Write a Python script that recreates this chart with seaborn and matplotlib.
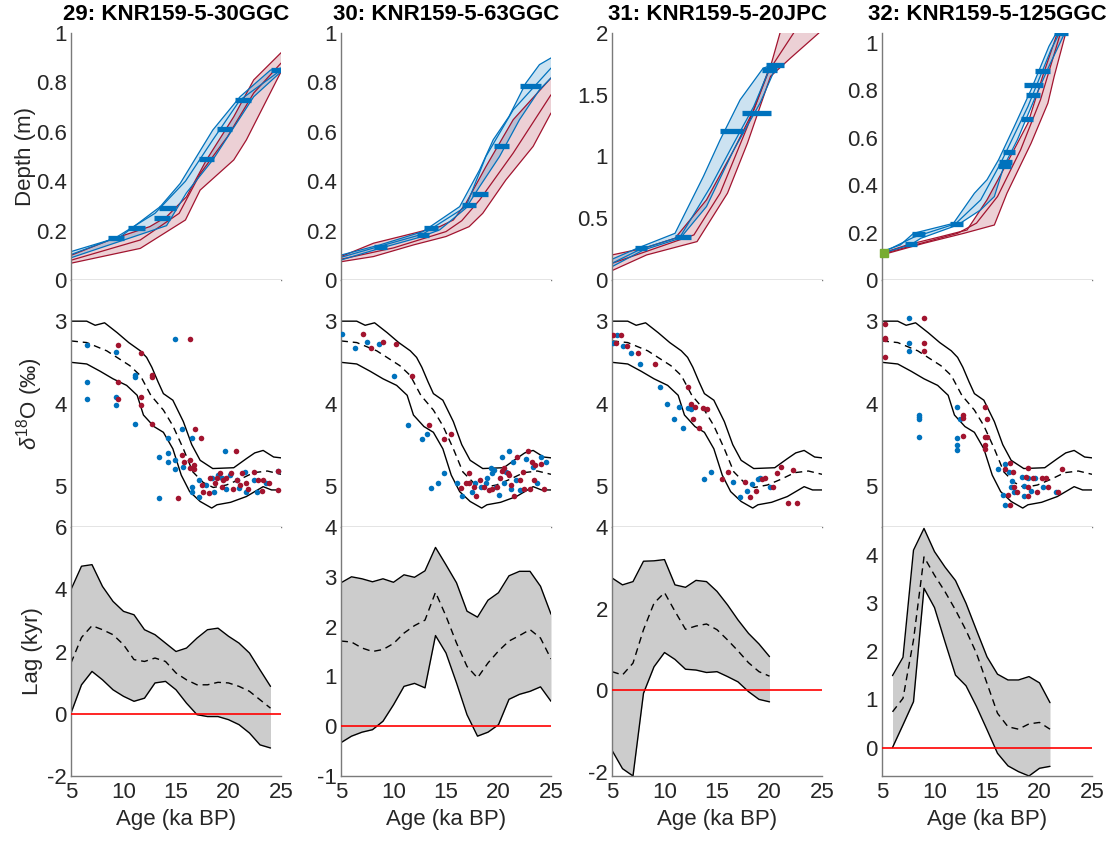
import matplotlib
matplotlib.use("Agg")
import numpy as np
import pandas as pd
import seaborn as sns
import matplotlib.pyplot as plt
from matplotlib.ticker import FuncFormatter

# ---------------------------------------------------------------- titles
TITLES = ["29: KNR159-5-30GGC", "30: KNR159-5-63GGC",
          "31: KNR159-5-20JPC", "32: KNR159-5-125GGC"]

# ------------------------------------------------ age-depth models (age ka, depth m)
red_young_29 = [(5, 0.100), (8.7, 0.162), (12.5, 0.216), (14.1, 0.256), (16.0, 0.337),
                (17.9, 0.486), (20.5, 0.661), (22.4, 0.810), (25, 0.920)]
red_mid_29 = [(5, 0.080), (11.6, 0.162), (15.3, 0.270), (17.3, 0.430), (19.9, 0.580),
              (22.4, 0.757), (25, 0.878)]
red_old_29 = [(5, 0.068), (11.6, 0.128), (15.9, 0.243), (17.3, 0.364), (20.5, 0.486),
              (21.7, 0.567), (25, 0.843)]
blue_young_29 = [(5, 0.115), (9.7, 0.175), (13.5, 0.297), (15.4, 0.391), (18.5, 0.607),
                 (21.1, 0.742), (24, 0.850), (25, 0.858)]
blue_mid_29 = [(5, 0.103), (9.2, 0.170), (13.0, 0.270), (15.9, 0.400), (18.5, 0.567),
               (21.1, 0.729), (25, 0.850)]
blue_old_29 = [(5, 0.090), (14.1, 0.220), (16.0, 0.353), (18.5, 0.486), (22.4, 0.742),
               (25, 0.843)]
bar_depth_29 = [0.17, 0.21, 0.25, 0.29, 0.49, 0.61, 0.73, 0.85]
bar_young_29 = [8.5, 10.4, 12.9, 13.4, 17.2, 18.9, 20.6, 24.0]
bar_old_29 = [10.0, 12.0, 14.4, 15.0, 18.6, 20.3, 22.1, 25.5]

red_young_30 = [(5, 0.095), (8.1, 0.149), (11.9, 0.189), (14.4, 0.216), (15.7, 0.243),
                (16.9, 0.311), (18.8, 0.459), (21.4, 0.649), (25, 0.818)]
red_mid_30 = [(5, 0.084), (10, 0.130), (15.0, 0.196), (16.5, 0.240), (18.2, 0.324),
              (21.4, 0.514), (25, 0.750)]
red_old_30 = [(5, 0.074), (8.1, 0.095), (11.9, 0.142), (15.0, 0.176), (17.2, 0.216),
              (18.5, 0.270), (20.7, 0.405), (23.3, 0.541), (25, 0.676)]
blue_young_30 = [(5, 0.101), (8.7, 0.142), (12.8, 0.196), (16.3, 0.297), (18.2, 0.446),
                 (19.5, 0.568), (21.0, 0.662), (22.6, 0.797), (23.9, 0.872), (25, 0.899)]
blue_mid_30 = [(5, 0.092), (12.8, 0.186), (16.9, 0.297), (18.8, 0.500), (21.4, 0.689),
               (25, 0.858)]
blue_old_30 = [(5, 0.081), (8.7, 0.128), (12.5, 0.173), (14.4, 0.203), (16.9, 0.291),
               (18.2, 0.378), (20.1, 0.500), (22.0, 0.649), (23.9, 0.770), (25, 0.818)]
bar_depth_30 = [0.135, 0.182, 0.212, 0.304, 0.349, 0.543, 0.784]
bar_young_30 = [8.1, 12.2, 12.9, 16.5, 17.5, 19.6, 22.0]
bar_old_30 = [9.4, 13.4, 14.2, 17.9, 19.0, 21.0, 24.0]

red_young_31 = [(5, 0.203), (8.0, 0.257), (11.0, 0.338), (14.0, 0.649), (16.6, 1.054),
                (18.5, 1.378), (20.1, 1.730), (21.0, 2.0), (23, 2.3)]
red_mid_31 = [(5, 0.135), (12.8, 0.365), (15.3, 0.703), (17.9, 1.243), (19.8, 1.676),
              (22.3, 2.0), (24, 2.3)]
red_old_31 = [(5, 0.076), (8.3, 0.203), (13.1, 0.311), (16.0, 0.703), (17.9, 1.108),
              (20.1, 1.649), (22.0, 1.797), (24.7, 2.0), (26, 2.2)]
blue_young_31 = [(5, 0.168), (7.4, 0.257), (11.0, 0.378), (13.7, 0.838), (15.3, 1.135),
                 (17.2, 1.459), (19.4, 1.716), (20.4, 1.743)]
blue_mid_31 = [(5, 0.135), (7.7, 0.249), (11.5, 0.351), (14.4, 0.757), (16.6, 1.108),
               (18.5, 1.405), (20.1, 1.730)]
blue_old_31 = [(5, 0.108), (8.0, 0.243), (11.5, 0.338), (14.0, 0.595), (16.6, 1.054),
               (19.1, 1.432), (20.7, 1.743)]
bar_depth_31 = [0.257, 0.351, 1.203, 1.351, 1.703, 1.741]
bar_young_31 = [7.2, 11.0, 15.3, 17.4, 19.3, 19.7]
bar_old_31 = [8.3, 12.5, 17.5, 20.1, 20.7, 21.4]

red_young_32 = [(5, 0.113), (7.4, 0.148), (10.6, 0.183), (13.1, 0.211), (15.0, 0.338),
                (16.9, 0.493), (18.9, 0.662), (20.4, 0.873), (21.7, 1.042), (22, 1.1)]
red_mid_32 = [(5, 0.110), (12.2, 0.197), (14.0, 0.240), (16.0, 0.352), (18.2, 0.549),
              (20.1, 0.761), (22.0, 1.042), (22.3, 1.1)]
red_old_32 = [(5, 0.106), (9.0, 0.155), (12.8, 0.197), (15.7, 0.232), (16.9, 0.366),
              (19.2, 0.577), (20.8, 0.746), (21.4, 0.859), (22.5, 1.042), (22.8, 1.1)]
blue_young_32 = [(5, 0.120), (6.75, 0.148), (8.0, 0.197), (11.8, 0.239), (13.8, 0.366),
                 (15.0, 0.423), (16.1, 0.507), (17.6, 0.648), (19.2, 0.803), (20.9, 0.986),
                 (21.6, 1.042), (21.8, 1.1)]
blue_mid_32 = [(5, 0.115), (8.0, 0.180), (12.0, 0.237), (14.4, 0.338), (16.3, 0.493),
               (18.9, 0.732), (21.1, 0.972), (21.9, 1.042), (22.1, 1.1)]
blue_old_32 = [(5, 0.113), (7.7, 0.148), (8.7, 0.176), (12.2, 0.232), (14.4, 0.296),
               (15.7, 0.352), (16.6, 0.479), (17.9, 0.592), (19.5, 0.761), (20.9, 0.901),
               (22.4, 1.042), (22.6, 1.1)]
bar_depth_32 = [0.152, 0.193, 0.235, 0.479, 0.497, 0.538, 0.680, 0.779, 0.821, 0.883, 1.04]
bar_young_32 = [7.2, 7.9, 11.5, 16.0, 16.1, 16.5, 18.2, 18.7, 18.5, 19.6, 21.4]
bar_old_32 = [8.3, 9.1, 12.7, 17.3, 17.4, 17.7, 19.4, 20.0, 20.3, 21.0, 22.7]
core_top_32 = (5.2, 0.113)

DEPTH_YLIM = [1.0, 1.0, 2.0, 1.042]
DEPTH_TICKS = [[0, 0.2, 0.4, 0.6, 0.8, 1], [0, 0.2, 0.4, 0.6, 0.8, 1],
               [0, 0.5, 1, 1.5, 2], [0, 0.2, 0.4, 0.6, 0.8, 1]]

# ------------------------------------------------ reference d18O stack (age ka, permil)
stack_upper = [(5, 3.00), (6.5, 3.00), (7.3, 3.05), (8.2, 3.02), (9.4, 3.14), (10.5, 3.26),
               (11.6, 3.36), (12.2, 3.44), (12.7, 3.56), (13.3, 3.74), (13.8, 3.88),
               (14.7, 3.96), (15.7, 4.22), (16.5, 4.50), (17.3, 4.69), (18.5, 4.79),
               (20.5, 4.78), (21.7, 4.67), (22.5, 4.60), (23.3, 4.57), (24.3, 4.65), (25, 4.66)]
stack_mid = [(5, 3.24), (6.5, 3.26), (8.4, 3.36), (10.6, 3.54), (11.6, 3.66), (12.6, 3.90),
             (13.8, 4.08), (14.7, 4.27), (15.7, 4.55), (16.6, 4.83), (17.6, 4.96),
             (18.55, 5.02), (19.8, 4.99), (21.1, 4.92), (22.4, 4.84), (23.7, 4.82), (25, 4.86)]
stack_lower = [(5, 3.50), (6.5, 3.52), (7.8, 3.61), (9.0, 3.70), (10.3, 3.78), (11.3, 3.90),
               (11.9, 4.14), (12.9, 4.28), (13.8, 4.35), (14.7, 4.55), (15.5, 4.87),
               (16.3, 5.07), (17.3, 5.19), (18.4, 5.27), (18.9, 5.23), (20.2, 5.20),
               (21.7, 5.13), (23.3, 5.01), (24.1, 5.05), (25, 5.05)]

# ------------------------------------------------ benthic d18O samples (age ka, permil)
d18o_blue_29 = [(6.5, 3.29), (6.5, 3.74), (6.5, 3.95), (9.3, 3.38), (9.3, 3.92), (9.3, 4.02),
                (11.1, 3.65), (11.1, 3.68), (11.1, 4.25), (14.9, 3.22), (15.6, 4.31),
                (13.4, 4.65), (14.2, 4.42), (14.2, 4.60), (14.2, 4.71), (14.9, 4.69),
                (14.9, 4.79), (15.7, 4.77), (16.5, 4.42), (17.2, 4.93), (16.5, 5.01),
                (16.5, 5.08), (17.2, 5.13), (17.9, 4.99), (18.4, 4.91), (18.6, 5.07),
                (19.0, 4.87), (19.4, 4.91), (19.7, 4.58), (19.8, 5.04), (20.1, 4.87),
                (20.8, 4.93), (21.0, 5.03), (21.6, 4.83), (21.7, 5.07), (22.4, 4.93),
                (22.7, 5.07), (23.6, 4.97), (24.7, 4.82), (13.4, 5.15)]
d18o_red_29 = [(9.45, 3.29), (9.45, 3.74), (9.45, 3.95), (11.7, 3.39), (11.7, 3.92),
               (11.7, 4.02), (12.7, 3.65), (12.7, 3.68), (12.7, 4.25), (16.3, 3.22),
               (16.8, 4.31), (15.2, 5.15), (15.6, 4.63), (15.8, 4.71), (16.3, 4.69),
               (16.3, 4.78), (16.7, 4.75), (16.7, 4.80), (17.4, 4.42), (17.5, 4.99),
               (17.6, 5.07), (18.1, 5.09), (18.2, 4.91), (18.7, 4.97), (18.9, 4.90),
               (19.2, 4.85), (19.4, 5.02), (19.5, 4.93), (19.8, 4.91), (20.2, 4.85),
               (20.4, 5.04), (20.7, 4.58), (20.8, 4.93), (21.1, 4.99), (21.3, 4.84),
               (21.7, 4.96), (21.9, 5.04), (22.4, 4.83), (22.8, 4.93), (23.2, 5.06),
               (23.3, 4.93), (23.9, 4.97), (24.7, 4.82), (24.7, 5.05)]

d18o_blue_30 = [(5.13, 3.15), (6.33, 3.33), (7.5, 3.25), (8.6, 3.28), (10.0, 3.66),
                (11.4, 4.26), (12.7, 4.43), (13.2, 4.37), (13.6, 5.03), (14.2, 4.96),
                (14.8, 4.85), (16.0, 4.97), (16.5, 5.12), (17.5, 5.08), (17.8, 4.96),
                (18.3, 5.01), (18.8, 4.97), (18.9, 4.90), (19.3, 4.78), (19.4, 4.84),
                (19.6, 4.81), (19.8, 5.02), (20.0, 5.11), (20.3, 4.65), (20.5, 4.97),
                (20.7, 4.83), (21.0, 4.58), (21.2, 5.04), (21.4, 4.71), (21.7, 4.93),
                (22.0, 5.05), (22.6, 4.67), (23.3, 4.77), (23.7, 4.97), (24.0, 4.65),
                (24.5, 4.71)]
d18o_red_30 = [(7.05, 3.15), (7.9, 3.33), (9.0, 3.25), (10.2, 3.28), (11.8, 3.66),
               (13.4, 4.26), (14.8, 4.43), (15.5, 4.37), (16.4, 5.03), (16.9, 4.96),
               (17.2, 4.85), (17.2, 4.97), (17.7, 5.01), (17.9, 5.12), (18.2, 4.93),
               (18.6, 5.01), (19.1, 5.05), (19.4, 5.04), (19.9, 5.01), (20.1, 4.91),
               (20.3, 4.82), (20.5, 4.78), (20.9, 4.85), (21.0, 4.87), (21.2, 4.99),
               (21.5, 5.12), (21.8, 4.65), (22.0, 4.93), (22.3, 4.83), (22.4, 5.04),
               (22.8, 4.58), (23.0, 5.04), (23.2, 4.71), (23.4, 4.93), (23.5, 4.75),
               (24.0, 4.73), (24.3, 5.04)]

d18o_blue_31 = [(5.1, 3.27), (5.5, 3.17), (6.0, 3.30), (6.8, 3.39), (7.7, 3.52), (9.6, 3.80),
                (10.2, 4.01), (10.9, 4.19), (11.4, 4.04), (11.8, 4.30), (12.2, 4.06),
                (12.5, 4.07), (13.8, 4.92), (14.4, 4.83), (16.5, 4.95), (17.2, 5.13),
                (17.9, 5.06), (18.3, 4.98), (18.9, 4.92), (19.1, 4.91), (20.0, 5.01)]
d18o_red_31 = [(5.1, 3.17), (5.4, 3.27), (5.9, 3.17), (6.4, 3.30), (7.5, 3.39), (9.1, 3.52),
               (12.2, 3.80), (12.5, 4.01), (12.7, 4.19), (12.9, 4.04), (13.3, 4.30),
               (13.7, 4.06), (14.0, 4.07), (15.5, 4.92), (16.0, 4.83), (17.7, 4.95),
               (18.1, 5.13), (18.7, 5.06), (19.3, 4.92), (19.6, 4.91), (20.3, 5.01),
               (20.7, 4.85), (21.1, 4.77), (22.2, 4.81), (21.8, 5.21), (22.6, 5.21)]

d18o_blue_32 = [(7.6, 2.96), (7.6, 3.26), (7.6, 3.36), (8.5, 4.14), (8.5, 4.16), (8.5, 4.19),
                (8.5, 4.41), (12.1, 4.04), (12.1, 4.42), (12.1, 4.51), (12.1, 4.56),
                (12.4, 4.19), (16.0, 4.80), (16.5, 5.11), (16.7, 4.73), (16.7, 5.23),
                (17.1, 4.83), (17.3, 5.01), (17.4, 4.94), (17.6, 5.07), (18.3, 4.89),
                (18.5, 5.00), (18.5, 5.12), (18.9, 4.90), (19.2, 5.06), (19.6, 4.91),
                (20.3, 5.01), (21.6, 5.07)]
d18o_red_32 = [(5.25, 3.03), (5.25, 3.20), (5.25, 3.22), (5.25, 3.44), (9.0, 2.96),
               (9.0, 3.26), (9.0, 3.36), (12.7, 4.14), (12.7, 4.18), (12.7, 4.40),
               (14.8, 4.04), (15.0, 4.19), (14.8, 4.41), (15.0, 4.41), (14.8, 4.51),
               (14.8, 4.55), (16.7, 4.80), (17.2, 4.72), (17.0, 5.11), (17.2, 5.23),
               (17.5, 4.83), (17.6, 5.01), (17.9, 5.07), (18.7, 4.89), (18.9, 4.78),
               (18.9, 5.01), (18.9, 5.12), (19.4, 4.90), (19.8, 5.07), (20.2, 4.91),
               (20.6, 4.91), (20.8, 5.01), (21.8, 5.07), (22.1, 4.80)]

# ------------------------------------------------ lag estimates (kyr)
lag_age_29 = list(range(5, 25))
lag_hi_29 = [3.99, 4.74, 4.79, 4.09, 3.61, 3.29, 3.18, 2.70, 2.54, 2.27, 2.00, 2.11, 2.43,
             2.70, 2.75, 2.49, 2.27, 1.95, 1.41, 0.88]
lag_mid_29 = [1.63, 2.45, 2.83, 2.70, 2.54, 2.22, 1.74, 1.68, 1.79, 1.68, 1.31, 1.09, 0.93,
              0.93, 1.01, 0.99, 0.88, 0.72, 0.45, 0.18]
lag_lo_29 = [0.02, 0.93, 1.36, 1.09, 0.77, 0.56, 0.40, 0.50, 0.99, 1.04, 0.77, 0.34, -0.03,
             -0.09, -0.09, -0.19, -0.35, -0.62, -1.00, -1.10]

lag_age_30 = list(range(5, 26))
lag_hi_30 = [2.88, 3.00, 2.96, 2.90, 2.96, 2.89, 3.04, 2.99, 3.12, 3.59, 3.24, 2.88, 2.31,
             2.19, 2.53, 2.68, 3.02, 3.11, 3.11, 2.81, 2.25]
lag_mid_30 = [1.71, 1.69, 1.57, 1.50, 1.54, 1.66, 1.87, 2.02, 2.13, 2.69, 2.21, 1.67, 1.20,
              0.97, 1.27, 1.51, 1.71, 1.82, 1.94, 1.77, 1.35]
lag_lo_30 = [-0.33, -0.20, -0.12, -0.07, 0.10, 0.43, 0.80, 0.86, 0.77, 1.82, 1.47, 0.87,
             0.23, -0.20, -0.12, 0.03, 0.54, 0.64, 0.70, 0.79, 0.50]

lag_age_31 = list(range(5, 21))
lag_hi_31 = [2.75, 2.58, 2.66, 3.16, 3.17, 3.20, 2.58, 2.52, 2.69, 2.66, 2.42, 2.09, 1.72,
             1.39, 1.13, 0.82]
lag_mid_31 = [0.45, 0.37, 0.66, 1.48, 2.13, 2.39, 1.93, 1.49, 1.57, 1.62, 1.48, 1.23, 0.96,
              0.67, 0.45, 0.34]
lag_lo_31 = [-1.48, -1.93, -2.11, -0.08, 0.57, 0.92, 0.75, 0.51, 0.49, 0.43, 0.45, 0.33,
             0.20, -0.04, -0.23, -0.29]

lag_age_32 = list(range(6, 22))
lag_hi_32 = [1.49, 1.87, 4.09, 4.54, 4.06, 3.74, 3.46, 2.99, 2.43, 1.88, 1.52, 1.40, 1.40,
             1.47, 1.34, 0.93]
lag_mid_32 = [0.74, 1.02, 2.23, 3.95, 3.57, 3.23, 2.85, 2.43, 1.95, 1.33, 0.71, 0.43, 0.38,
              0.49, 0.52, 0.38]
lag_lo_32 = [0.00, 0.47, 0.95, 3.30, 2.90, 2.19, 1.50, 1.28, 0.85, 0.37, -0.12, -0.38,
             -0.50, -0.59, -0.43, -0.39]

LAG_YLIM = [(-2, 6), (-1, 4), (-2.11, 4), (-0.59, 4.57)]
LAG_TICKS = [[-2, 0, 2, 4, 6], [-1, 0, 1, 2, 3, 4], [-2, 0, 2, 4], [0, 1, 2, 3, 4]]
AGE_TICKS = [5, 10, 15, 20, 25]

# ------------------------------------------------ grouping per core
RED_YOUNG = [red_young_29, red_young_30, red_young_31, red_young_32]
RED_MID = [red_mid_29, red_mid_30, red_mid_31, red_mid_32]
RED_OLD = [red_old_29, red_old_30, red_old_31, red_old_32]
BLUE_YOUNG = [blue_young_29, blue_young_30, blue_young_31, blue_young_32]
BLUE_MID = [blue_mid_29, blue_mid_30, blue_mid_31, blue_mid_32]
BLUE_OLD = [blue_old_29, blue_old_30, blue_old_31, blue_old_32]
BAR_DEPTH = [bar_depth_29, bar_depth_30, bar_depth_31, bar_depth_32]
BAR_YOUNG = [bar_young_29, bar_young_30, bar_young_31, bar_young_32]
BAR_OLD = [bar_old_29, bar_old_30, bar_old_31, bar_old_32]
D18O_BLUE = [d18o_blue_29, d18o_blue_30, d18o_blue_31, d18o_blue_32]
D18O_RED = [d18o_red_29, d18o_red_30, d18o_red_31, d18o_red_32]
LAG_AGE = [lag_age_29, lag_age_30, lag_age_31, lag_age_32]
LAG_HI = [lag_hi_29, lag_hi_30, lag_hi_31, lag_hi_32]
LAG_MID = [lag_mid_29, lag_mid_30, lag_mid_31, lag_mid_32]
LAG_LO = [lag_lo_29, lag_lo_30, lag_lo_31, lag_lo_32]

# ------------------------------------------------ style
RED = "#A2142F"
BLUE = "#0072BD"
GREEN = "#77AC30"
SPINE = "#7a7a7a"
TXT = "#262626"
FS = 16

sns.set_theme(style="white")
plt.rcParams.update({
    "font.family": ["Liberation Sans", "DejaVu Sans"],
    "mathtext.fontset": "custom",
    "mathtext.rm": "Liberation Sans",
    "mathtext.it": "Liberation Sans:italic",
    "mathtext.bf": "Liberation Sans:bold",
    "axes.edgecolor": SPINE,
    "axes.linewidth": 1.0,
    "xtick.color": SPINE,
    "ytick.color": SPINE,
    "xtick.labelcolor": TXT,
    "ytick.labelcolor": TXT,
    "xtick.labelsize": FS,
    "ytick.labelsize": FS,
    "xtick.direction": "in",
    "ytick.direction": "in",
    "axes.labelcolor": TXT,
})

W, H = 1119, 841
fig = plt.figure(figsize=(W / 100, H / 100), dpi=100)

COL_LEFT = [71, 341, 612, 882]
COL_W = 210
ROWS = [(33, 280), (280, 527), (527, 776)]   # top / bottom pixel edges


def add_ax(col, row):
    top, bot = ROWS[row]
    return fig.add_axes([COL_LEFT[col] / W, (H - bot) / H, COL_W / W, (bot - top) / H])


def xy(pairs):
    a = np.asarray(pairs, dtype=float)
    return a[:, 0], a[:, 1]


def line(ax, pairs, color, lw=0.9, ls="-"):
    x, y = xy(pairs)
    sns.lineplot(x=x, y=y, ax=ax, color=color, lw=lw, ls=ls,
                 estimator=None, sort=False, legend=False)


def band(ax, young, old, color):
    xa, ya = xy(young)
    xb, yb = xy(old)
    ax.fill(np.r_[xa, xb[::-1]], np.r_[ya, yb[::-1]], color=color, alpha=0.2, lw=0)


def style(ax, show_x):
    sns.despine(ax=ax)
    ax.set_xlim(5, 25)
    ax.set_xticks(AGE_TICKS)
    ax.tick_params(axis="y", length=3.5, width=0.8, pad=3)
    if show_x:
        ax.tick_params(axis="x", length=3.5, width=0.8, pad=4)
    else:
        ax.tick_params(axis="x", length=0, labelbottom=False)
    fmt = FuncFormatter(lambda v, p: f"{v:g}")
    ax.yaxis.set_major_formatter(fmt)
    ax.xaxis.set_major_formatter(fmt)


for c in range(4):
    # ---------------- age-depth models
    ax = add_ax(c, 0)
    band(ax, RED_YOUNG[c], RED_OLD[c], RED)
    band(ax, BLUE_YOUNG[c], BLUE_OLD[c], BLUE)
    for pairs in (RED_YOUNG[c], RED_MID[c], RED_OLD[c]):
        line(ax, pairs, RED)
    for pairs in (BLUE_YOUNG[c], BLUE_MID[c], BLUE_OLD[c]):
        line(ax, pairs, BLUE)
    ax.hlines(BAR_DEPTH[c], BAR_YOUNG[c], BAR_OLD[c], color=BLUE, lw=3.8, zorder=5)
    if c == 3:
        ax.plot([core_top_32[0]], [core_top_32[1]], marker="s", ms=5.5,
                color=GREEN, ls="none", zorder=6, clip_on=False)
    ax.set_ylim(0, DEPTH_YLIM[c])
    ax.set_yticks(DEPTH_TICKS[c])
    style(ax, False)
    ax.set_title(TITLES[c], fontsize=FS, fontweight="bold", color="black", pad=9)
    if c == 0:
        ax.set_ylabel("Depth (m)", fontsize=FS)
        ax.yaxis.set_label_coords(-0.165, 0.5)

    # ---------------- d18O against the reference stack
    ax = add_ax(c, 1)
    line(ax, stack_upper, "black", lw=1.0)
    line(ax, stack_lower, "black", lw=1.0)
    line(ax, stack_mid, "black", lw=1.0, ls=(0, (5, 3.5)))
    bx, by = xy(D18O_BLUE[c])
    rx, ry = xy(D18O_RED[c])
    sns.scatterplot(x=bx, y=by, ax=ax, color=BLUE, s=16, linewidth=0, zorder=4)
    sns.scatterplot(x=rx, y=ry, ax=ax, color=RED, s=16, linewidth=0, zorder=5)
    ax.set_ylim(5.5, 2.5)
    ax.set_yticks([3, 4, 5])
    style(ax, False)
    if c == 0:
        ax.set_ylabel(r"$\delta^{18}$O (‰)", fontsize=FS)
        ax.yaxis.set_label_coords(-0.125, 0.5)

    # ---------------- lag
    ax = add_ax(c, 2)
    df = pd.DataFrame({"age": LAG_AGE[c], "hi": LAG_HI[c], "mid": LAG_MID[c], "lo": LAG_LO[c]})
    ax.fill_between(df["age"], df["lo"], df["hi"], color="#CCCCCC", lw=0)
    sns.lineplot(data=df, x="age", y="hi", ax=ax, color="black", lw=1.0, estimator=None)
    sns.lineplot(data=df, x="age", y="lo", ax=ax, color="black", lw=1.0, estimator=None)
    sns.lineplot(data=df, x="age", y="mid", ax=ax, color="black", lw=1.0,
                 ls=(0, (5, 3.5)), estimator=None)
    ax.axhline(0, color="#FF0000", lw=1.2, zorder=4)
    ax.set_ylim(*LAG_YLIM[c])
    ax.set_yticks(LAG_TICKS[c])
    style(ax, True)
    ax.set_xlabel("Age (ka BP)", fontsize=FS, labelpad=5)
    if c == 0:
        ax.set_ylabel("Lag (kyr)", fontsize=FS)
        ax.yaxis.set_label_coords(-0.135, 0.5)
    else:
        ax.set_ylabel("")

fig.savefig("out.png", dpi=100)
